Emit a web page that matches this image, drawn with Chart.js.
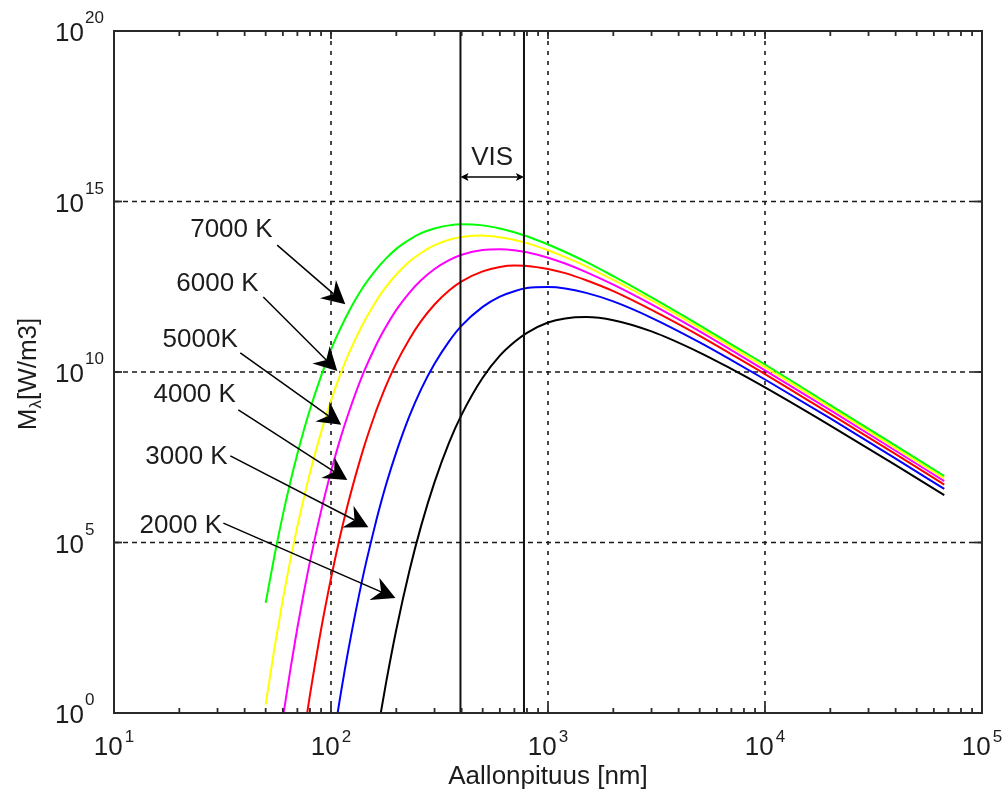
<!DOCTYPE html>
<html><head><meta charset="utf-8">
<script src="https://cdn.jsdelivr.net/npm/chart.js@4"></script>
<style>html,body{margin:0;padding:0;background:#fff}canvas{display:block}</style>
</head><body>
<canvas id="c" width="1008" height="798" style="width:1008px;height:798px"></canvas>
<script>
// Wavelengths (nm) at which the curves were read
const wavelengthsNm = [50,55,60,65,70,75,80,90,100,105,110,120,140,160,170,180,200,230,260,300,350,400,500,600,700,800,1000,1200,1500,2000,3000,5000,7000,10000,20000,40000,67000];
// log10 of M_lambda [W/m3] (null = not drawn)
const log7000 = [3.23,4.64,5.81,6.78,7.60,8.30,8.90,9.88,10.65,10.97,11.25,11.74,12.47,12.97,13.17,13.34,13.61,13.88,14.07,14.21,14.30,14.33,14.30,14.21,14.10,13.98,13.74,13.52,13.23,12.81,12.19,11.37,10.81,10.22,9.03,7.84,6.95];
const log6000 = [0.25,1.94,3.33,4.49,5.47,6.31,7.04,8.23,9.16,9.55,9.90,10.50,11.40,12.04,12.30,12.51,12.86,13.24,13.49,13.72,13.88,13.96,14.00,13.95,13.87,13.78,13.57,13.37,13.10,12.70,12.10,11.29,10.74,10.14,8.96,7.77,6.88];
const log5000 = [null,-1.85,-0.15,1.28,2.50,3.54,4.44,5.92,7.08,7.57,8.01,8.76,9.92,10.74,11.07,11.35,11.82,12.33,12.69,13.02,13.28,13.44,13.58,13.60,13.57,13.51,13.35,13.18,12.93,12.56,11.98,11.19,10.64,10.05,8.88,7.69,6.80];
const log4000 = [null,null,null,null,-1.97,-0.63,0.53,2.45,3.95,4.59,5.17,6.16,7.68,8.79,9.23,9.62,10.26,10.97,11.49,11.98,12.39,12.66,12.95,13.08,13.12,13.11,13.02,12.90,12.69,12.37,11.82,11.06,10.52,9.94,8.77,7.59,6.70];
const log3000 = [null,null,null,null,null,null,null,null,-1.26,-0.37,0.43,1.82,3.97,5.53,6.17,6.73,7.65,8.71,9.49,10.24,10.90,11.36,11.91,12.21,12.37,12.46,12.49,12.45,12.32,12.07,11.59,10.87,10.35,9.78,8.64,7.46,6.57];
const log2000 = [null,null,null,null,null,null,null,null,null,null,null,null,null,-0.98,0.04,0.94,2.45,4.18,5.48,6.77,7.93,8.75,9.83,10.48,10.88,11.15,11.45,11.57,11.61,11.52,11.19,10.57,10.09,9.55,8.43,7.27,6.39];

const seriesNames = ['7000 K','6000 K','5000K','4000 K','3000 K','2000 K'];
const seriesColors = ['#00ff00','#ffff00','#ff00ff','#ff0000','#0000ff','#000000'];
const seriesLogs = [log7000,log6000,log5000,log4000,log3000,log2000];

// axes
const xMajorTicks = [10,100,1000,10000,100000];
const xMajorExp = ['1','2','3','4','5'];
const yMajorTicks = [1,1e5,1e10,1e15,1e20];
const yMajorExp = ['0','5','10','15','20'];
const xGridValues = [100,1000,10000];
const yGridValues = [1e5,1e10,1e15];
const visBoundsNm = [395,775];

// annotations (log10 lambda, log10 M)
const labelPos = [[1.351,13.95],[1.287,12.38],[1.224,10.74],[1.182,9.13],[1.144,7.30],[1.118,5.29]];
const arrowFrom = [[1.752,13.72],[1.688,12.20],[1.582,10.56],[1.573,8.89],[1.536,7.54],[1.504,5.57]];
const arrowTo = [[2.066,11.99],[2.029,10.03],[2.047,8.45],[2.075,6.83],[2.172,5.45],[2.297,3.37]];
const visArrowLogM = 15.72;
const visTextLogM = 16.07;

const FONT = '"Liberation Sans", Arial, Helvetica, sans-serif';
const TXT = '#1c1c1c';

const datasets = seriesLogs.map((arr,i)=>({
  label: seriesNames[i],
  data: wavelengthsNm.map((w,j)=>({x:w, y: arr[j]===null ? null : Math.pow(10, arr[j])})),
  borderColor: seriesColors[i],
  borderWidth: 2,
  pointRadius: 0,
  fill: false,
  cubicInterpolationMode: 'monotone',
  spanGaps: false
}));

function seg(ctx,x0,y0,x1,y1){ctx.beginPath();ctx.moveTo(x0,y0);ctx.lineTo(x1,y1);ctx.stroke();}

function arrowHead(ctx,x0,y0,x1,y1,L,ha,notch){
  const a=Math.atan2(y1-y0,x1-x0);
  const bx1=x1-L*Math.cos(a-ha), by1=y1-L*Math.sin(a-ha);
  const bx2=x1-L*Math.cos(a+ha), by2=y1-L*Math.sin(a+ha);
  const nx=x1-L*notch*Math.cos(a), ny=y1-L*notch*Math.sin(a);
  ctx.beginPath();ctx.moveTo(x1,y1);ctx.lineTo(bx1,by1);ctx.lineTo(nx,ny);ctx.lineTo(bx2,by2);ctx.closePath();ctx.fill();
  return [nx,ny];
}

const deco = {
  id:'deco',
  beforeDatasetsDraw(chart){
    const {ctx, chartArea:a, scales:{x,y}} = chart;
    ctx.save();
    ctx.strokeStyle='#1a1a1a'; ctx.lineWidth=1.6;
    ctx.setLineDash([5,4]);
    yGridValues.forEach(v=>{const py=y.getPixelForValue(v); seg(ctx,a.left,py,a.right,py);});
    ctx.setLineDash([4,6]);
    xGridValues.forEach(v=>{const px=x.getPixelForValue(v); seg(ctx,px,a.top,px,a.bottom);});
    ctx.restore();
  },
  afterDatasetsDraw(chart){
    const {ctx, chartArea:a, scales:{x,y}} = chart;
    const X=l=>x.getPixelForValue(Math.pow(10,l));
    const Y=l=>y.getPixelForValue(Math.pow(10,l));
    ctx.save();
    // VIS lines
    ctx.strokeStyle='#111'; ctx.lineWidth=2;
    const vx = visBoundsNm.map(v=>x.getPixelForValue(v));
    vx.forEach(px=>seg(ctx,px,a.top,px,a.bottom));
    // frame
    ctx.strokeStyle='#2a2a2a'; ctx.lineWidth=2;
    ctx.strokeRect(a.left,a.top,a.right-a.left,a.bottom-a.top);
    // x ticks
    ctx.lineWidth=1.8;
    for(let d=10; d<1e5; d*=10){
      for(let m=2;m<=9;m++){const px=x.getPixelForValue(m*d); seg(ctx,px,a.bottom,px,a.bottom-5); seg(ctx,px,a.top,px,a.top+5);}
    }
    xMajorTicks.forEach(v=>{const px=x.getPixelForValue(v); seg(ctx,px,a.bottom,px,a.bottom-8); seg(ctx,px,a.top,px,a.top+8);});
    yMajorTicks.forEach(v=>{const py=y.getPixelForValue(v); seg(ctx,a.left,py,a.left+8,py); seg(ctx,a.right,py,a.right-8,py);});
    // tick labels
    ctx.fillStyle=TXT;
    const big='26px '+FONT, small='17px '+FONT;
    xMajorTicks.forEach((v,i)=>{
      const px=x.getPixelForValue(v);
      ctx.font=big; const w1=ctx.measureText('10').width;
      ctx.font=small; const w2=ctx.measureText(xMajorExp[i]).width;
      const gap=2, tot=w1+gap+w2, sx=px-tot/2;
      ctx.textAlign='left'; ctx.textBaseline='alphabetic';
      ctx.font=big; ctx.fillText('10',sx,755);
      ctx.font=small; ctx.fillText(xMajorExp[i],sx+w1+gap,742);
    });
    yMajorTicks.forEach((v,i)=>{
      const py=y.getPixelForValue(v);
      ctx.textBaseline='alphabetic';
      ctx.font=big; ctx.textAlign='right'; ctx.fillText('10',84,py+10);
      ctx.font=small; ctx.textAlign='left'; ctx.fillText(yMajorExp[i],85,py-8);
    });
    // axis titles
    ctx.font=big; ctx.textAlign='center'; ctx.fillText('Aallonpituus [nm]',(a.left+a.right)/2,784);
    ctx.save();
    ctx.translate(36,(a.top+a.bottom)/2+2);
    ctx.rotate(-Math.PI/2);
    ctx.font=big; const wM=ctx.measureText('M').width, wR=ctx.measureText('[W/m3]').width;
    ctx.font=small; const wL=ctx.measureText('λ').width;
    const tw=wM+wL+wR; let sx=-tw/2;
    ctx.textAlign='left';
    ctx.font=big; ctx.fillText('M',sx,0); sx+=wM;
    ctx.font=small; ctx.fillText('λ',sx,5); sx+=wL;
    ctx.font=big; ctx.fillText('[W/m3]',sx,0);
    ctx.restore();
    // temperature labels and arrows
    ctx.fillStyle='#000'; ctx.strokeStyle='#000'; ctx.lineWidth=1.5;
    seriesNames.forEach((n,i)=>{
      ctx.font=big; ctx.textAlign='left'; ctx.textBaseline='alphabetic'; ctx.fillStyle=TXT;
      ctx.fillText(n,X(labelPos[i][0]),Y(labelPos[i][1]));
      const x0=X(arrowFrom[i][0]), y0=Y(arrowFrom[i][1]), x1=X(arrowTo[i][0]), y1=Y(arrowTo[i][1]);
      ctx.fillStyle='#000';
      const nn=arrowHead(ctx,x0,y0,x1,y1,26,28*Math.PI/180,0.6);
      seg(ctx,x0,y0,nn[0],nn[1]);
    });
    // VIS double arrow
    const vy=Y(visArrowLogM);
    ctx.lineWidth=1.5;
    const m=(vx[0]+vx[1])/2;
    const n1=arrowHead(ctx,m,vy,vx[0],vy,9,26*Math.PI/180,0.7);
    const n2=arrowHead(ctx,m,vy,vx[1],vy,9,26*Math.PI/180,0.7);
    seg(ctx,n1[0],vy,n2[0],vy);
    ctx.fillStyle=TXT; ctx.font=big; ctx.textAlign='center';
    ctx.fillText('VIS',x.getPixelForValue(Math.sqrt(visBoundsNm[0]*visBoundsNm[1])),Y(visTextLogM));
    ctx.restore();
  }
};

new Chart(document.getElementById('c'),{
  type:'line',
  data:{datasets},
  options:{
    responsive:false, animation:false, devicePixelRatio:1,
    layout:{padding:{left:0,right:26,top:31,bottom:0}},
    plugins:{legend:{display:false},tooltip:{enabled:false},title:{display:false}},
    scales:{
      x:{type:'logarithmic',min:10,max:1e5,ticks:{display:false},grid:{display:false},border:{display:false},
         afterFit(s){s.height=85;}},
      y:{type:'logarithmic',min:1,max:1e20,ticks:{display:false},grid:{display:false},border:{display:false},
         afterFit(s){s.width=114;}}
    }
  },
  plugins:[deco]
});
</script>
</body></html>
